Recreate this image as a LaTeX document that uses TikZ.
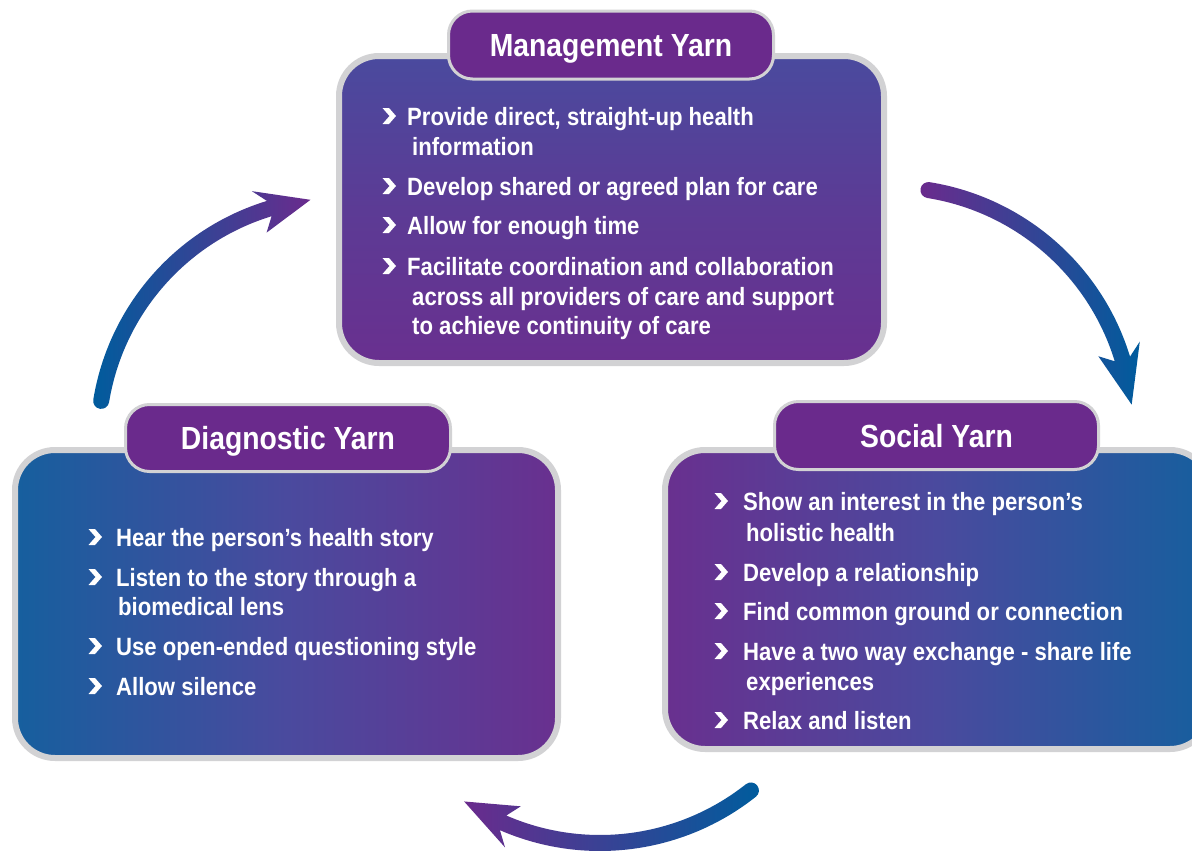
\documentclass[tikz,border=0pt]{standalone}
\usepackage{fontspec}
\usetikzlibrary{calc}
\newfontfamily\yarn{Liberation Sans Bold}[FakeStretch=0.885]
\definecolor{tabpurple}{HTML}{6A2A8C}
\definecolor{edgegray}{HTML}{D2D2D4}
\definecolor{arblue}{HTML}{005C9D}
\definecolor{arpurple}{HTML}{6A2B8D}
\definecolor{bxblue}{HTML}{165F9E}
\definecolor{bxpurple}{HTML}{69308F}
\definecolor{bxtop}{HTML}{4A4A9E}
\definecolor{bxmid}{HTML}{5C3B95}
% #1 centre, #2 radius, #3 start angle, #4 shaft end angle, #5 barb angle, #6 tip angle, #7 left colour, #8 right colour
\newcommand{\yarnarrow}[8]{%
  \shade[left color=#7, right color=#8]
    ($(#1)+(#3:#2+8)$) arc[start angle=#3, end angle=#4, radius=#2+8]
    -- ($(#1)+(#5:#2+22)$) -- ($(#1)+(#6:#2)$) -- ($(#1)+(#5:#2-22)$)
    -- ($(#1)+(#4:#2-8)$) arc[start angle=#4, end angle=#3, radius=#2-8]
    arc[start angle=#3+180, end angle=#3, radius=8] -- cycle;}
\begin{document}
\begin{tikzpicture}[x=1pt,y=1pt,
  panel/.style={draw=edgegray, line width=6pt, rounded corners=40pt, inner sep=0pt},
  tab/.style={draw=edgegray, line width=3pt, fill=tabpurple, rounded corners=24pt, inner sep=0pt,
    minimum width=325pt, minimum height=68pt, text=white,
    font={\yarn\fontsize{32pt}{36pt}\selectfont}, text height=23pt, text depth=0pt},
  item/.style={anchor=base west, inner sep=0pt, text=white, font={\yarn\fontsize{25pt}{30pt}\selectfont}},
  chev/.pic={\fill[white] (-6.5,8) -- (0,8) -- (7,0) -- (0,-8) -- (-6.5,-8) -- (0.5,0) -- cycle;}
]
\path[use as bounding box, fill=white] (0,0) rectangle (1192,-854);

% arc centres of the three arrows
\coordinate (c1) at (340,-440);
\coordinate (c2) at (890,-430);
\coordinate (c3) at (600,-600);

% panels
\node[panel, minimum width=545pt, minimum height=307pt, top color=bxtop, bottom color=bxpurple, middle color=bxmid] (mbox) at (611.5,-209.5) {};
\node[panel, minimum width=543pt, minimum height=308pt, left color=bxblue, right color=bxpurple, middle color=bxtop] (dbox) at (286.5,-604) {};
\node[panel, minimum width=545pt, minimum height=299pt, left color=bxpurple, right color=bxblue, middle color=bxtop] (sbox) at (937.5,-599.5) {};

% tabs
\node[tab] (mtab) at (611,-45) {Management Yarn};
\node[tab, minimum height=67pt] (dtab) at (288,-438) {Diagnostic Yarn};
\node[tab, minimum width=324pt] (stab) at (936.5,-435.5) {Social Yarn};

% Management items
\node[item] (m1) at (407,-125) {Provide direct, straight-up health};
\node[item] (m2) at (412,-155) {information};
\node[item] (m3) at (407,-195) {Develop shared or agreed plan for care};
\node[item] (m4) at (407,-234) {Allow for enough time};
\node[item] (m5) at (407,-275) {Facilitate coordination and collaboration};
\node[item] (m6) at (412,-305) {across all providers of care and support};
\node[item] (m7) at (412,-334) {to achieve continuity of care};
\foreach \yy in {125,195,234,275} \pic at (389,-\yy+9) {chev};

% Diagnostic items
\node[item] (d1) at (116,-546) {Hear the person’s health story};
\node[item] (d2) at (116,-586) {Listen to the story through a};
\node[item] (d3) at (118,-615) {biomedical lens};
\node[item] (d4) at (116,-655) {Use open-ended questioning style};
\node[item] (d5) at (116,-695) {Allow silence};
\foreach \yy in {546,586,655,695} \pic at (95,-\yy+9) {chev};

% Social items
\node[item] (s1) at (743,-510) {Show an interest in the person’s};
\node[item] (s2) at (746,-541) {holistic health};
\node[item] (s3) at (743,-581) {Develop a relationship};
\node[item] (s4) at (743,-620) {Find common ground or connection};
\node[item] (s5) at (743,-660) {Have a two way exchange - share life};
\node[item] (s6) at (746,-690) {experiences};
\node[item] (s7) at (743,-729) {Relax and listen};
\foreach \yy in {510,581,620,660,729} \pic at (721,-\yy+9) {chev};

% arrows
\yarnarrow{c1}{242}{170.7}{107}{109.5}{97}{arblue}{arpurple}
\yarnarrow{c2}{243}{80.9}{17}{19.5}{6}{arpurple}{arblue}
\yarnarrow{c3}{243}{-51.6}{-113.5}{-111}{-124}{arpurple}{arblue}
\end{tikzpicture}
\end{document}
